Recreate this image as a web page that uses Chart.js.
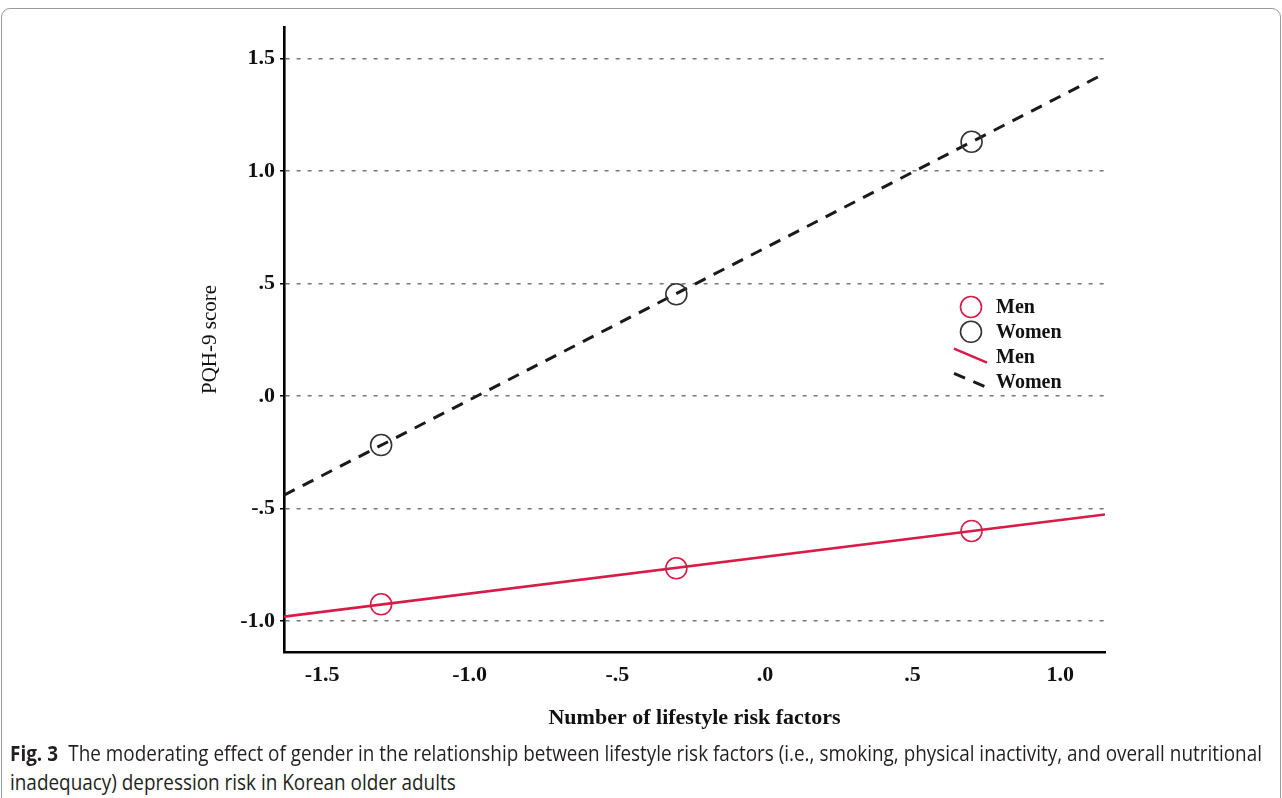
<!DOCTYPE html>
<html>
<head>
<meta charset="utf-8">
<script src="https://cdn.jsdelivr.net/npm/chart.js@4.4.0/dist/chart.umd.min.js"></script>
<style>
  html, body { margin: 0; padding: 0; background: #fff; }
  body { width: 1282px; height: 798px; position: relative; overflow: hidden; }
  #frame {
    position: absolute; left: 1px; top: 8px; width: 1278px; height: 820px;
    border: 1px solid #9a9a9a; border-radius: 9px;
  }
  #myChart { position: absolute; left: 0; top: 0; }
  .cap {
    position: absolute; left: 10px; font-family: "Open Sans", sans-serif;
    font-size: 21px; color: #231f20; white-space: nowrap; transform-origin: 0 50%;
    line-height: 26px;
  }
  .cap b { font-weight: 700; margin-right: 6px; }
</style>
</head>
<body>
<div id="frame"></div>
<canvas id="myChart" width="1282" height="740"></canvas>
<div class="cap" id="cap1" style="top: 740px;"><b>Fig. 3</b> The moderating effect of gender in the relationship between lifestyle risk factors (i.e., smoking, physical inactivity, and overall nutritional</div>
<div class="cap" id="cap2" style="top: 769px;">inadequacy) depression risk in Korean older adults</div>
<script>
// values
var riskX = [-1.3, -0.3, 0.7];
var menScore = [-0.926, -0.766, -0.6];
var womenScore = [-0.218, 0.452, 1.13];

// fitted lines, ends at the axis limits
var fitX = [-1.629, 1.152];
var menFit = [-0.981, -0.527];
var womenFit = [-0.441, 1.434];

var xTicks = [-1.5, -1.0, -0.5, 0, 0.5, 1.0];
var xTickLabels = ["-1.5", "-1.0", "-.5", ".0", ".5", "1.0"];
var yTicks = [-1.0, -0.5, 0, 0.5, 1.0, 1.5];
var yTickLabels = ["-1.0", "-.5", ".0", ".5", "1.0", "1.5"];

var RED = "#d81b47";
var BLACK = "#1a1a1a";

function pts(xs, ys) {
  return xs.map(function (x, i) { return { x: x, y: ys[i] }; });
}

// legend drawn inside the plot, like the SPSS output
var insideLegend = {
  id: "insideLegend",
  afterDatasetsDraw: function (chart) {
    var c = chart.ctx;
    var x0 = 971, y0 = 307, step = 24.8;
    c.save();
    c.font = "bold 20px 'Liberation Serif'";
    c.textBaseline = "middle";
    c.fillStyle = "#111";
    chart.data.datasets.forEach(function (ds, i) {
      var y = y0 + i * step;
      c.strokeStyle = ds.borderColor;
      if (ds.showLine) {
        c.lineWidth = ds.borderWidth;
        c.setLineDash(ds.borderDash || []);
        c.beginPath();
        c.moveTo(x0 - 17, y - 8);
        c.lineTo(x0 + 16, y + 6);
        c.stroke();
        c.setLineDash([]);
      } else {
        c.lineWidth = ds.borderWidth;
        c.beginPath();
        c.arc(x0, y, ds.pointRadius, 0, Math.PI * 2);
        c.stroke();
      }
      c.fillText(ds.label, x0 + 25, y + 1);
    });
    c.restore();
  },
};

var ctx = document.getElementById("myChart").getContext("2d");
var myChart = new Chart(ctx, {
  type: "scatter",
  data: {
    datasets: [
      {
        label: "Men",
        data: pts(riskX, menScore),
        borderColor: RED,
        backgroundColor: "rgba(0,0,0,0)",
        pointRadius: 10.5,
        pointHoverRadius: 10.5,
        borderWidth: 1.6,
        order: 1,
      },
      {
        label: "Women",
        data: pts(riskX, womenScore),
        borderColor: "#333",
        backgroundColor: "rgba(0,0,0,0)",
        pointRadius: 10.5,
        pointHoverRadius: 10.5,
        borderWidth: 1.6,
        order: 1,
      },
      {
        label: "Men",
        type: "line",
        showLine: true,
        data: pts(fitX, menFit),
        borderColor: RED,
        borderWidth: 2.6,
        pointRadius: 0,
        order: 2,
      },
      {
        label: "Women",
        type: "line",
        showLine: true,
        data: pts(fitX, womenFit),
        borderColor: BLACK,
        borderWidth: 3,
        borderDash: [12, 9],
        pointRadius: 0,
        order: 2,
      },
    ],
  },
  options: {
    responsive: false,
    animation: false,
    layout: {
      padding: { left: 0, top: 27, right: 177, bottom: 0 },
    },
    plugins: {
      legend: { display: false },
      tooltip: { enabled: false },
    },
    scales: {
      x: {
        type: "linear",
        min: fitX[0],
        max: fitX[1],
        afterBuildTicks: function (scale) {
          scale.ticks = xTicks.map(function (v) { return { value: v }; });
        },
        afterFit: function (scale) {
          scale.height = 88;
        },
        grid: { display: false, drawTicks: false },
        border: { display: true, color: "#000", width: 2.6 },
        ticks: {
          padding: 10,
          color: "#111",
          font: { family: "Liberation Serif", size: 22, weight: "bold" },
          callback: function (v) {
            var i = xTicks.indexOf(v);
            return i >= 0 ? xTickLabels[i] : "";
          },
        },
        title: {
          display: true,
          text: "Number of lifestyle risk factors",
          color: "#111",
          font: { family: "Liberation Serif", size: 22, weight: "bold" },
          padding: { top: 0, bottom: 8 },
        },
      },
      y: {
        type: "linear",
        min: -1.138,
        max: 1.64,
        afterBuildTicks: function (scale) {
          scale.ticks = yTicks.map(function (v) { return { value: v }; });
        },
        afterFit: function (scale) {
          scale.width = 284;
        },
        grid: {
          color: "#777",
          lineWidth: 1.5,
          drawTicks: true,
          tickLength: 4,
          tickColor: "#000",
          tickWidth: 1.5,
        },
        border: { display: true, color: "#000", width: 2.6, dash: [4, 7] },
        ticks: {
          padding: 5,
          color: "#111",
          font: { family: "Liberation Serif", size: 22, weight: "bold" },
          callback: function (v) {
            var i = yTicks.indexOf(v);
            return i >= 0 ? yTickLabels[i] : "";
          },
        },
        title: {
          display: true,
          text: "PQH-9 score",
          color: "#111",
          font: { family: "Liberation Serif", size: 21 },
          padding: { top: 198, bottom: 0 },
        },
      },
    },
  },
  plugins: [insideLegend],
});

// squeeze the caption to the condensed width of the original
var cap1 = document.getElementById("cap1");
var cap2 = document.getElementById("cap2");
var k = 1252 / cap1.getBoundingClientRect().width;
cap1.style.transform = "scaleX(" + k + ")";
cap2.style.transform = "scaleX(" + k + ")";
</script>
</body>
</html>
